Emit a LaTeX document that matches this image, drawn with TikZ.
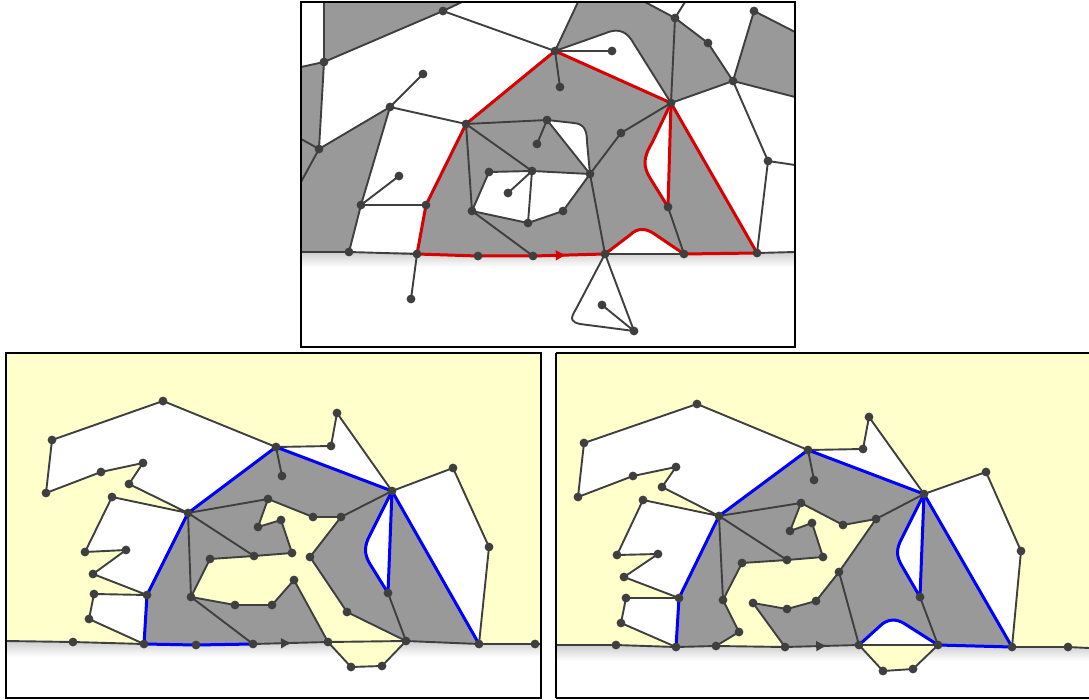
\documentclass[tikz,border=0pt]{standalone}
\usetikzlibrary{arrows.meta,decorations.markings}
\definecolor{edgec}{HTML}{3F3F3F}
\definecolor{facec}{HTML}{999999}
\definecolor{sandc}{HTML}{FFFFCC}
\definecolor{redc}{HTML}{D80000}
\definecolor{bluec}{HTML}{0000FF}
\tikzset{
  gline/.style={draw=edgec,line width=1.9pt,line join=round},
  rline/.style={draw=redc,line width=3pt,line join=round},
  bline/.style={draw=bluec,line width=3pt,line join=round},
  panel/.style={draw=black,line width=1.6pt},
  dropshade/.style={top color=black!18,bottom color=white},
  midarrow/.style={postaction={decorate},decoration={markings,
    mark=at position #1 with {\arrow{Latex[length=11pt,width=11pt]}}}}
}
\begin{document}
\begin{tikzpicture}[x=1pt,y=-1pt]%
% top: input map, bottom left / bottom right: two results
\useasboundingbox (0,0) rectangle (1089,700);
\def\vtx#1{\foreach \v in {#1} \fill[edgec] (\v) circle[radius=4.4pt];}
%
\coordinate (ta1) at (443,11);  \coordinate (ta2) at (324,62);
\coordinate (ta3) at (423,74);  \coordinate (ta4) at (390,107);
\coordinate (ta5) at (466,124); \coordinate (ta6) at (319,149);
\coordinate (ta7) at (547,120); \coordinate (ta8) at (537,144);
\coordinate (ta9) at (489,172); \coordinate (ta10) at (532,171);
\coordinate (tb1) at (555,51);  \coordinate (tb2) at (612,51);
\coordinate (tb3) at (560,87);  \coordinate (tb4) at (675,18);
\coordinate (tb5) at (754,11);  \coordinate (tb6) at (708,43);
\coordinate (tb7) at (733,81);  \coordinate (tb8) at (671,103);
\coordinate (tb9) at (621,133); \coordinate (tb10) at (590,174);
\coordinate (tb11) at (768,161);
\coordinate (tc1) at (399,176); \coordinate (tc2) at (361,205);
\coordinate (tc3) at (426,205); \coordinate (tc4) at (349,252);
\coordinate (tc5) at (417,254); \coordinate (tc6) at (411,299);
\coordinate (tc7) at (478,256); \coordinate (tc8) at (533,256);
\coordinate (tc9) at (472,211); \coordinate (tc11) at (508,193);
\coordinate (tc12) at (528,223);
\coordinate (td2) at (563,211); \coordinate (td3) at (605,254);
\coordinate (td4) at (668,207); \coordinate (td5) at (684,254);
\coordinate (td6) at (757,253); \coordinate (td7) at (602,305);
\coordinate (td8) at (634,331);
\coordinate (tx1) at (324,2);   \coordinate (tx2) at (462,2);
\coordinate (tx3) at (578,2);   \coordinate (tx4) at (645,2);
\coordinate (tx5) at (685,2);   \coordinate (tx6) at (795,32);
\coordinate (tx7) at (795,97);  \coordinate (tx8) at (795,165);
\coordinate (tx9) at (301,67);  \coordinate (tx10) at (301,139);
\coordinate (tx11) at (301,182);
\coordinate (tg1) at (301,252); \coordinate (tg2) at (795,252);
%
\fill[white] (301,2) rectangle (795,347);
\shade[dropshade] (301,253) rectangle (795,267);
\fill[facec] (tx1) -- (tx2) -- (ta1) -- (ta2) -- cycle;
\fill[facec] (tx9) -- (ta2) -- (ta6) -- (ta4) -- (tc2) -- (tc4) -- (tg1) -- cycle;
\fill[facec] (tb1) -- (tx3) -- (tx4) -- (tb4) -- (tb6) -- (tb7) -- (tb8) -- cycle;
\fill[facec] (tb5) -- (tx6) -- (tx7) -- (tb7) -- cycle;
\fill[facec] (tc5) -- (tc3) -- (ta5) -- (tb1) -- (tb8) -- (td6) -- (td5) -- (td3) -- (tc8) -- (tc7) -- cycle;
\fill[white] (tb1) -- (606,33) .. controls (620,27) and (628,33) .. (634,44) -- (tb8) -- cycle;
\fill[white] (ta9) -- (ta10) -- (tb10) -- (td2) -- (tc12) -- (tc9) -- cycle;
\fill[white] (ta7) -- (574,123) .. controls (584,124) and (587,130) .. (587,142) -- (tb10) -- cycle;
\fill[white] (tb8) -- (652,143) .. controls (643,158) and (643,166) .. (650,178) -- (td4) -- cycle;
\fill[white] (td3) -- (630,235) .. controls (637,228) and (645,228) .. (653,233) -- (td5) -- cycle;
\fill[white] (td3) -- (576,309) .. controls (569,320) and (572,322) .. (580,324) -- (td8) -- cycle;
%
\draw[gline] (tx1) -- (ta2) -- (ta1) -- (tx2);
\draw[gline] (ta1) -- (tb1);
\draw[gline] (tx9) -- (ta2) -- (ta6) -- (tx10);
\draw[gline] (tx11) -- (ta6) -- (ta4) -- (ta3);
\draw[gline] (ta4) -- (ta5);
\draw[gline] (ta4) -- (tc2) -- (tc1);
\draw[gline] (tc3) -- (tc2) -- (tc4);
\draw[gline] (tg1) -- (tc4) -- (tc5) -- (tc6);
\draw[gline] (ta5) -- (ta7) -- (ta8);
\draw[gline] (ta5) -- (ta10) -- (ta9) -- (tc9) -- (ta5);
\draw[gline] (ta10) -- (tc11);
\draw[gline] (ta10) -- (tc12) -- (tc9) -- (tc8);
\draw[gline] (tc12) -- (td2) -- (tb10) -- (ta10);
\draw[gline] (ta7) -- (tb10);
\draw[gline] (ta7) -- (574,123) .. controls (584,124) and (587,130) .. (587,142) -- (tb10);
\draw[gline] (tb10) -- (td3);
\draw[gline] (tb10) -- (tb9) -- (tb8);
\draw[gline] (tb2) -- (tb1) -- (tb3);
\draw[gline] (tb1) -- (tx3);
\draw[gline] (tb1) -- (606,33) .. controls (620,27) and (628,33) .. (634,44) -- (tb8);
\draw[gline] (tx4) -- (tb4) -- (tx5);
\draw[gline] (tb4) -- (tb8);
\draw[gline] (tb4) -- (tb6) -- (tb7) -- (tb5) -- (tx6);
\draw[gline] (tx7) -- (tb7) -- (tb8);
\draw[gline] (tb7) -- (tb11) -- (tx8);
\draw[gline] (tb11) -- (td6) -- (tg2);
\draw[gline] (td4) -- (td5) -- (td3);
\draw[gline] (td7) -- (td8) -- (td3);
\draw[gline] (td3) -- (576,309) .. controls (569,320) and (572,322) .. (580,324) -- (td8);
\draw[rline] (tc5) -- (tc7) -- (tc8);
\draw[rline,midarrow=0.47] (tc8) -- (td3);
\draw[rline] (td3) -- (630,235) .. controls (637,228) and (645,228) .. (653,233) -- (td5)
  -- (td6) -- (tb8) -- (tb1) -- (ta5) -- (tc3) -- (tc5);
\draw[rline] (tb8) -- (td4);
\draw[rline] (tb8) -- (652,143) .. controls (643,158) and (643,166) .. (650,178) -- (td4);
\vtx{ta1,ta2,ta3,ta4,ta5,ta6,ta7,ta8,ta9,ta10}
\vtx{tb1,tb2,tb3,tb4,tb5,tb6,tb7,tb8,tb9,tb10,tb11}
\vtx{tc1,tc2,tc3,tc4,tc5,tc6,tc7,tc8,tc9,tc11,tc12}
\vtx{td2,td3,td4,td5,td6,td7,td8}
\draw[panel] (301,2) rectangle (795,347);
%
\coordinate (la1) at (163,401); \coordinate (la2) at (52,440);
\coordinate (la3) at (46,493);  \coordinate (la4) at (101,472);
\coordinate (la5) at (143,463); \coordinate (la6) at (129,484);
\coordinate (la7) at (112,497); \coordinate (la8) at (188,513);
\coordinate (la9) at (276,447); \coordinate (la10) at (268,499);
\coordinate (la11) at (258,527); \coordinate (la12) at (85,552);
\coordinate (la13) at (126,550); \coordinate (la14) at (254,556);
\coordinate (la15) at (210,559);
\coordinate (lb2) at (331,446); \coordinate (lb3) at (337,413);
\coordinate (lb4) at (282,476); \coordinate (lb5) at (392,491);
\coordinate (lb6) at (453,468); \coordinate (lb7) at (489,547);
\coordinate (lb9) at (313,517); \coordinate (lb10) at (341,517);
\coordinate (lb11) at (281,520); \coordinate (lb12) at (292,553);
\coordinate (lb13) at (310,557);
\coordinate (lc3) at (93,574);  \coordinate (lc4) at (147,595);
\coordinate (lc5) at (94,594);  \coordinate (lc6) at (89,619);
\coordinate (lc7) at (144,644); \coordinate (lc8) at (73,642);
\coordinate (lc9) at (196,645); \coordinate (lc10) at (253,644);
\coordinate (lc11) at (191,597); \coordinate (lc14) at (235,605);
\coordinate (lc15) at (272,605);
\coordinate (ld3) at (294,580); \coordinate (ld5) at (347,612);
\coordinate (ld6) at (388,593); \coordinate (ld7) at (328,642);
\coordinate (ld8) at (406,641); \coordinate (ld9) at (351,667);
\coordinate (ld10) at (382,666); \coordinate (ld11) at (479,644);
\coordinate (ld12) at (535,644);
\coordinate (lg1) at (6,641);   \coordinate (lg2) at (541,644);
%
\fill[white] (6,353) rectangle (541,698);
\shade[dropshade] (6,642) rectangle (541,657);
\fill[sandc] (6,353) -- (541,353) -- (lg2) -- (ld12) -- (ld11) -- (ld8) -- (ld7) -- (lc10)
  -- (lc9) -- (lc7) -- (lc8) -- (lg1) -- cycle;
\fill[sandc] (ld7) -- (ld9) -- (ld10) -- (ld8) -- cycle;
\fill[facec] (la8) -- (la9) -- (lb5) -- (ld11) -- (ld8) -- (ld5) -- (lb13) -- (lb10) -- (lb9)
  -- (la10) -- (la11) -- (lb11) -- (lb12) -- (la14) -- (la15) -- (lc11) -- (lc14) -- (lc15)
  -- (ld3) -- (ld7) -- (lc10) -- (lc9) -- (lc7) -- (lc4) -- cycle;
\fill[white] (la2) -- (la1) -- (la9) -- (la8) -- (la6) -- (la5) -- (la4) -- (la3) -- cycle;
\fill[white] (la9) -- (lb2) -- (lb3) -- (lb5) -- cycle;
\fill[white] (lb5) -- (lb6) -- (lb7) -- (ld11) -- cycle;
\fill[white] (la8) -- (la7) -- (la12) -- (la13) -- (lc3) -- (lc4) -- cycle;
\fill[white] (lc4) -- (lc5) -- (lc6) -- (lc7) -- cycle;
\fill[white] (lb5) -- (370,535) .. controls (364,546) and (364,554) .. (370,564) -- (ld6) -- cycle;
%
\draw[gline] (la9) -- (la1) -- (la2) -- (la3) -- (la4) -- (la5) -- (la6) -- (la8) -- (la7)
  -- (la12) -- (la13) -- (lc3) -- (lc4) -- (lc5) -- (lc6) -- (lc7);
\draw[gline] (la9) -- (lb2) -- (lb3) -- (lb5) -- (lb6) -- (lb7) -- (ld11);
\draw[gline] (la9) -- (lb4);
\draw[gline] (lb5) -- (lb10) -- (lb9) -- (la10) -- (la8);
\draw[gline] (la10) -- (la11) -- (lb11) -- (lb12) -- (la14) -- (la8);
\draw[gline] (la14) -- (la15) -- (lc11) -- (la8);
\draw[gline] (lc11) -- (lc14) -- (lc15) -- (ld3) -- (ld7);
\draw[gline] (lc11) -- (lc10);
\draw[gline] (lb10) -- (lb13) -- (ld5) -- (ld8) -- (ld6);
\draw[gline] (ld7) -- (ld9) -- (ld10) -- (ld8);
\draw[gline] (lg1) -- (lc8) -- (lc7);
\draw[gline,midarrow=0.52] (lc10) -- (ld7);
\draw[gline] (ld7) -- (ld8) -- (ld11) -- (ld12) -- (lg2);
\draw[bline] (lc10) -- (lc9) -- (lc7) -- (lc4) -- (la8) -- (la9) -- (lb5) -- (ld11);
\draw[bline] (lb5) -- (ld6);
\draw[bline] (lb5) -- (370,535) .. controls (364,546) and (364,554) .. (370,564) -- (ld6);
\vtx{la1,la2,la3,la4,la5,la6,la7,la8,la9,la10,la11,la12,la13,la14,la15}
\vtx{lb2,lb3,lb4,lb5,lb6,lb7,lb9,lb10,lb11,lb12,lb13}
\vtx{lc3,lc4,lc5,lc6,lc7,lc8,lc9,lc10,lc11,lc14,lc15}
\vtx{ld3,ld5,ld6,ld7,ld8,ld9,ld10,ld11,ld12}
\draw[panel] (6,353) rectangle (541,698);
%
\coordinate (ra1) at (697,404); \coordinate (ra2) at (584,443);
\coordinate (ra3) at (578,497); \coordinate (ra4) at (633,476);
\coordinate (ra5) at (676,467); \coordinate (ra6) at (662,487);
\coordinate (ra7) at (643,500); \coordinate (ra8) at (719,516);
\coordinate (ra9) at (808,450); \coordinate (ra10) at (814,480);
\coordinate (ra11) at (801,503); \coordinate (ra12) at (790,531);
\coordinate (ra13) at (812,523); \coordinate (ra14) at (617,555);
\coordinate (ra15) at (658,554); \coordinate (ra17) at (823,557);
\coordinate (rb1) at (869,417); \coordinate (rb2) at (863,449);
\coordinate (rb3) at (924,494); \coordinate (rb4) at (986,472);
\coordinate (rb5) at (1021,551); \coordinate (rb6) at (843,525);
\coordinate (rb7) at (876,519);
\coordinate (rc3) at (624,577); \coordinate (rc4) at (679,598);
\coordinate (rc5) at (626,598); \coordinate (rc6) at (621,623);
\coordinate (rc7) at (676,647); \coordinate (rc8) at (616,645);
\coordinate (rc9) at (723,600); \coordinate (rc10) at (716,646);
\coordinate (rc11) at (739,632); \coordinate (rc12) at (742,563);
\coordinate (rc13) at (787,560); \coordinate (rc17) at (753,603);
\coordinate (rc18) at (787,609); \coordinate (rc19) at (816,601);
\coordinate (rc20) at (785,647);
\coordinate (rd4) at (839,572); \coordinate (rd5) at (859,645);
\coordinate (rd6) at (920,597); \coordinate (rd7) at (938,645);
\coordinate (rd8) at (883,671); \coordinate (rd9) at (913,669);
\coordinate (rd10) at (1012,647); \coordinate (rd11) at (1068,647);
\coordinate (rg1) at (556,645); \coordinate (rg2) at (1089,648);
%
\fill[white] (556,353) rectangle (1089,698);
\shade[dropshade] (556,646) rectangle (1089,661);
\fill[sandc] (556,353) -- (1089,353) -- (rg2) -- (rd11) -- (rd10) -- (rd7) -- (rd5) -- (rc20)
  -- (rc10) -- (rc7) -- (rc8) -- (rg1) -- cycle;
\fill[sandc] (rd5) -- (rd8) -- (rd9) -- (rd7) -- cycle;
\fill[facec] (ra8) -- (ra9) -- (rb3) -- (rd10) -- (rd7) -- (rd5) -- (rc20) -- (rc17) -- (rc18)
  -- (rc19) -- (rd4) -- (rb7) -- (rb6) -- (ra11) -- (ra12) -- (ra13) -- (ra17) -- (rc13)
  -- (rc12) -- (rc9) -- (rc11) -- (rc10) -- (rc7) -- (rc4) -- cycle;
\fill[white] (ra2) -- (ra1) -- (ra9) -- (ra8) -- (ra6) -- (ra5) -- (ra4) -- (ra3) -- cycle;
\fill[white] (ra9) -- (rb2) -- (rb1) -- (rb3) -- cycle;
\fill[white] (rb3) -- (rb4) -- (rb5) -- (rd10) -- cycle;
\fill[white] (ra8) -- (ra7) -- (ra14) -- (ra15) -- (rc3) -- (rc4) -- cycle;
\fill[white] (rc4) -- (rc5) -- (rc6) -- (rc7) -- cycle;
\fill[white] (rb3) -- (902,538) .. controls (896,549) and (896,556) .. (902,566) -- (rd6) -- cycle;
\fill[white] (rd5) -- (880,626) .. controls (887,619) and (896,618) .. (905,624) -- (rd7) -- cycle;
%
\draw[gline] (ra9) -- (ra1) -- (ra2) -- (ra3) -- (ra4) -- (ra5) -- (ra6) -- (ra8) -- (ra7)
  -- (ra14) -- (ra15) -- (rc3) -- (rc4) -- (rc5) -- (rc6) -- (rc7);
\draw[gline] (ra9) -- (rb2) -- (rb1) -- (rb3) -- (rb4) -- (rb5) -- (rd10);
\draw[gline] (ra9) -- (ra10);
\draw[gline] (rb3) -- (rb7) -- (rb6) -- (ra11) -- (ra8);
\draw[gline] (ra11) -- (ra12) -- (ra13) -- (ra17) -- (rc13) -- (ra8);
\draw[gline] (rc13) -- (rc12) -- (rc9) -- (ra8);
\draw[gline] (rc9) -- (rc11) -- (rc10);
\draw[gline] (rc20) -- (rc17) -- (rc18) -- (rc19) -- (rd4) -- (rb7);
\draw[gline] (rd4) -- (rd5);
\draw[gline] (rd6) -- (rd7);
\draw[gline] (rd5) -- (rd8) -- (rd9) -- (rd7);
\draw[gline] (rg1) -- (rc8) -- (rc7) -- (rc10) -- (rc20);
\draw[gline,midarrow=0.57] (rc20) -- (rd5);
\draw[gline] (rd5) -- (rd7);
\draw[gline] (rd10) -- (rd11) -- (rg2);
\draw[bline] (rc7) -- (rc4) -- (ra8) -- (ra9) -- (rb3) -- (rd10) -- (rd7);
\draw[bline] (rd5) -- (880,626) .. controls (887,619) and (896,618) .. (905,624) -- (rd7);
\draw[bline] (rb3) -- (rd6);
\draw[bline] (rb3) -- (902,538) .. controls (896,549) and (896,556) .. (902,566) -- (rd6);
\vtx{ra1,ra2,ra3,ra4,ra5,ra6,ra7,ra8,ra9,ra10,ra11,ra12,ra13,ra14,ra15,ra17}
\vtx{rb1,rb2,rb3,rb4,rb5,rb6,rb7}
\vtx{rc3,rc4,rc5,rc6,rc7,rc8,rc9,rc10,rc11,rc12,rc13,rc17,rc18,rc19,rc20}
\vtx{rd4,rd5,rd6,rd7,rd8,rd9,rd10,rd11}
\draw[panel] (556,353) -- (1092,353) (556,698) -- (1092,698) (556,353) -- (556,698);
\end{tikzpicture}
\end{document}
